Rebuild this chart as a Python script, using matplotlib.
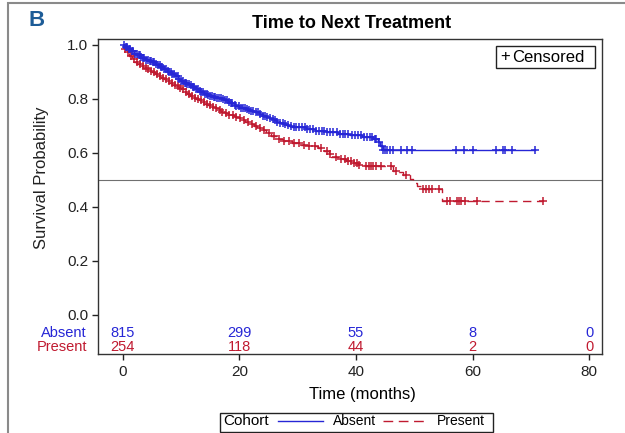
import numpy as np
import matplotlib
matplotlib.use('Agg')
import matplotlib.pyplot as plt
from matplotlib.lines import Line2D
from matplotlib.patches import Rectangle
import matplotlib.transforms as mtransforms

plt.rcParams['font.family'] = ['Liberation Sans', 'DejaVu Sans']

# Kaplan-Meier steps (time in months, survival after the step)
absent_t = [0, 0.5, 1, 1.5, 2, 2.5, 3, 3.5, 4, 4.5, 5, 5.5, 6, 6.5, 7, 7.5,
            8, 8.5, 9, 9.5, 10, 10.5, 11, 11.5, 12, 12.5, 13, 13.5, 14, 14.5,
            15, 15.5, 16, 16.5, 17, 17.5, 18, 18.5, 19, 19.5, 20, 20.5, 21,
            21.5, 22, 22.5, 23, 23.5, 24, 24.5, 25, 25.5, 26, 26.5, 27, 27.5,
            28, 28.5, 29, 30, 31.5, 33, 35, 37, 39, 41, 43.0, 43.8, 44.2,
            44.6, 70.7]
absent_s = [1.0, 0.992, 0.985, 0.976, 0.968, 0.961, 0.955, 0.95, 0.945,
            0.94, 0.935, 0.93, 0.925, 0.918, 0.912, 0.905, 0.898, 0.891,
            0.885, 0.875, 0.866, 0.86, 0.855, 0.85, 0.845, 0.837, 0.83,
            0.824, 0.818, 0.814, 0.81, 0.807, 0.805, 0.802, 0.80, 0.795,
            0.79, 0.784, 0.778, 0.773, 0.768, 0.765, 0.762, 0.759, 0.756,
            0.753, 0.75, 0.744, 0.738, 0.733, 0.728, 0.724, 0.72, 0.716,
            0.712, 0.707, 0.703, 0.70, 0.697, 0.695, 0.69, 0.682, 0.676,
            0.671, 0.665, 0.66, 0.652, 0.64, 0.625, 0.611, 0.611]
present_t = [0, 0.3, 0.6, 1, 1.5, 2, 2.5, 3, 3.5, 4, 4.5, 5, 5.5, 6, 6.5, 7,
             7.5, 8, 8.5, 9, 9.5, 10, 10.5, 11, 11.5, 12, 12.5, 13, 13.5, 14,
             14.5, 15, 15.5, 16, 16.5, 17, 17.5, 18, 18.5, 19, 19.5, 20, 20.5,
             21, 21.5, 22, 22.5, 23, 23.5, 24, 24.6, 25.5, 26.5, 27.5, 29,
             30.5, 32, 33.5, 34.5, 35.3, 35.8, 37, 38.3, 39.3, 40.5, 41.5,
             46.4, 47.3, 48.1, 49.3, 49.8, 50.5, 51.3, 54.7, 72.1]
present_s = [1.0, 0.985, 0.972, 0.96, 0.948, 0.937, 0.929, 0.922, 0.916,
             0.91, 0.904, 0.898, 0.891, 0.885, 0.878, 0.872, 0.866, 0.86,
             0.853, 0.846, 0.84, 0.835, 0.826, 0.818, 0.811, 0.805, 0.80,
             0.795, 0.788, 0.782, 0.778, 0.774, 0.77, 0.765, 0.758, 0.752,
             0.747, 0.742, 0.74, 0.737, 0.733, 0.728, 0.722, 0.716, 0.71,
             0.705, 0.701, 0.697, 0.691, 0.685, 0.673, 0.663, 0.652, 0.645,
             0.638, 0.63, 0.624, 0.616, 0.608, 0.596, 0.585, 0.578, 0.57,
             0.562, 0.556, 0.55, 0.534, 0.528, 0.519, 0.502, 0.488, 0.476,
             0.464, 0.421, 0.421]

# censoring times
absent_cens = [0.2, 0.5, 0.8, 1.0, 1.3, 1.5, 1.8, 2.1, 2.4, 2.7, 2.9, 3.2,
               3.5, 3.7, 4.0, 4.3, 4.6, 4.9, 5.1, 5.4, 5.7, 6.0, 6.3, 6.6,
               6.8, 7.1, 7.4, 7.7, 8.0, 8.3, 8.5, 8.8, 9.1, 9.4, 9.7, 10.0,
               10.3, 10.6, 10.8, 11.1, 11.4, 11.7, 12.0, 12.3, 12.6, 12.9,
               13.2, 13.5, 13.8, 14.1, 14.4, 14.7, 15.0, 15.3, 15.6, 15.9,
               16.2, 16.5, 16.9, 17.2, 17.5, 17.8, 18.2, 18.5, 18.8, 19.2,
               19.5, 19.9, 20.2, 20.6, 20.9, 21.3, 21.7, 22.0, 22.4, 22.8,
               23.2, 23.6, 24.0, 24.4, 24.8, 25.2, 25.7, 26.1, 26.5, 27.0,
               27.4, 27.9, 28.3, 28.8, 29.3, 29.7, 30.2, 30.7, 31.2, 31.6,
               32.1, 32.6, 33.1, 33.6, 34.1, 34.6, 35.1, 35.6, 36.1, 36.7,
               37.2, 37.7, 38.2, 38.7, 39.3, 39.8, 40.3, 40.9, 41.4, 41.9,
               42.4, 42.8, 43.2, 43.5, 44.0, 44.4, 44.7, 45.0, 45.4, 45.8,
               46.3, 47.8, 48.7, 49.6, 57.2, 58.6, 60.0, 64.1, 65.2, 65.5,
               66.7, 70.7]
present_cens = [0.4, 0.9, 1.4, 1.9, 2.4, 2.9, 3.4, 3.9, 4.4, 4.9, 5.4, 5.9,
                6.4, 6.9, 7.4, 7.9, 8.4, 8.9, 9.4, 9.9, 10.4, 10.9, 11.4,
                11.9, 12.4, 12.9, 13.4, 13.9, 14.4, 14.9, 15.5, 16.0, 16.6,
                17.1, 17.7, 18.3, 18.9, 19.5, 20.1, 20.8, 21.4, 22.1, 22.8,
                23.6, 24.3, 25.1, 25.9, 26.8, 27.6, 28.5, 29.3, 30.2, 31.1,
                32.0, 33.0, 34.0, 35.0, 35.6, 36.5, 37.5, 38.2, 38.6, 39.2,
                39.6, 40.2, 40.6, 41.8, 42.2, 42.5, 43.0, 43.5, 44.3, 46.0,
                46.9, 48.5, 51.5, 52.0, 52.5, 53.0, 54.2, 55.6, 56.1, 57.3,
                57.6, 58.1, 58.7, 60.7, 72.1]

risk_times = [0, 20, 40, 60, 80]
absent_risk = [815, 299, 55, 8, 0]
present_risk = [254, 118, 44, 2, 0]

blue = '#2626d6'
red = '#c01a30'


def surv_at(times, surv, query):
    idx = np.searchsorted(times, query, side='right') - 1
    return np.asarray(surv)[idx]


fig = plt.figure(figsize=(6.25, 4.33), dpi=100)
ax = fig.add_axes([98 / 625, 1 - 354 / 433, 504 / 625, 315 / 433])

ax.axhline(0.5, color='#707070', lw=0.8, zorder=1)

ax.step(absent_t, absent_s, where='post', color=blue, lw=1.0, zorder=3)
ax.step(present_t, present_s, where='post', color=red, lw=1.0,
        dashes=(6, 4), zorder=2)
ax.plot(absent_cens, surv_at(absent_t, absent_s, absent_cens), ls='none',
        marker='+', ms=5.5, mew=1.1, color=blue, zorder=3)
ax.plot(present_cens, surv_at(present_t, present_s, present_cens), ls='none',
        marker='+', ms=5.5, mew=1.1, color=red, zorder=2)

ax.set_xlim(-4.25, 82.2)
ax.set_ylim(-0.146, 1.022)
ax.set_xticks(risk_times)
ax.set_yticks([0, 0.2, 0.4, 0.6, 0.8, 1.0])
ax.set_yticklabels(['0.0', '0.2', '0.4', '0.6', '0.8', '1.0'])
ax.tick_params(direction='out', length=4, width=1, labelsize=11,
               colors='#222222', pad=3)
ax.tick_params(axis='x', pad=4)
for sp in ax.spines.values():
    sp.set_color('#333333')
    sp.set_linewidth(1.0)

# at-risk table inside the axes
row_tr = mtransforms.blended_transform_factory(ax.transAxes, ax.transData)
ax.text(-0.022, -0.068, 'Absent', color=blue, fontsize=10.5, ha='right',
        va='center', transform=row_tr)
ax.text(-0.022, -0.119, 'Present', color=red, fontsize=10.5, ha='right',
        va='center', transform=row_tr)
for t, a, p in zip(risk_times, absent_risk, present_risk):
    ax.text(t, -0.068, str(a), color=blue, fontsize=10.5, ha='center',
            va='center')
    ax.text(t, -0.119, str(p), color=red, fontsize=10.5, ha='center',
            va='center')

fig.text(362 / 625, 1 - 394 / 433, 'Time (months)', fontsize=12,
         ha='center', va='center')
fig.text(42 / 625, 1 - 178 / 433, 'Survival Probability', fontsize=12,
         ha='center', va='center', rotation=90, color='#222222')
fig.text(352 / 625, 1 - 23 / 433, 'Time to Next Treatment', fontsize=13,
         fontweight='bold', ha='center', va='center')
fig.text(28 / 625, 1 - 20 / 433, 'B', fontsize=16, fontweight='bold',
         color='#1d5c97', ha='left', va='center')

# censored legend box
ax.add_patch(Rectangle((496 / 625, 1 - 68 / 433), 99 / 625, 22 / 433,
                       transform=fig.transFigure, fill=False, lw=1.0,
                       ec='#222222', zorder=5, clip_on=False))
fig.text(505 / 625, 1 - 57 / 433, '+', fontsize=12, ha='center', va='center')
fig.text(512 / 625, 1 - 57 / 433, 'Censored', fontsize=12, ha='left',
         va='center')

# cohort legend at the bottom
fig.patches.append(Rectangle((220 / 625, 1 - 432 / 433), 273 / 625,
                             19 / 433, transform=fig.transFigure, fill=False,
                             lw=1.0, ec='#222222'))
yl = 1 - 421 / 433
fig.text(223 / 625, yl, 'Cohort', fontsize=11, ha='left', va='center')
fig.lines.append(Line2D([278 / 625, 323 / 625], [yl, yl], color=blue,
                        lw=1.0, transform=fig.transFigure))
fig.text(333 / 625, yl, 'Absent', fontsize=10, ha='left', va='center')
fig.lines.append(Line2D([383 / 625, 425 / 625], [yl, yl], color=red,
                        lw=1.0, dashes=(7, 4), transform=fig.transFigure))
fig.text(437 / 625, yl, 'Present', fontsize=10, ha='left', va='center')

# outer panel frame
fig.patches.append(Rectangle((8 / 625, -0.05), 1.0, 1 - 3 / 433 + 0.05,
                             transform=fig.transFigure, fill=False, lw=1.5,
                             ec='#8a8a8a'))

fig.savefig('out.png', dpi=100)
